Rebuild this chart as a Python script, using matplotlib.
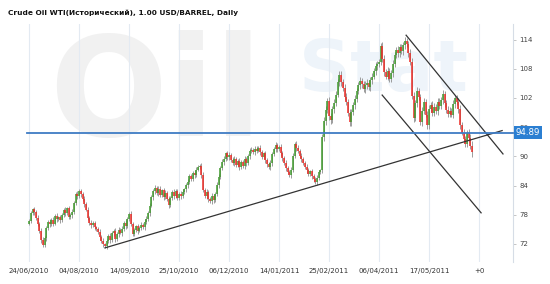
import matplotlib
matplotlib.use('Agg')
import numpy as np
from matplotlib import pyplot as plt

# chart texts
title = 'Crude Oil WTI(Исторический), 1.00 USD/BARREL, Daily'
date_labels = ['24/06/2010', '04/08/2010', '14/09/2010', '25/10/2010', '06/12/2010',
               '14/01/2011', '25/02/2011', '06/04/2011', '17/05/2011', '+0']
bars_per_label = 29
y_ticks = [72, 78, 84, 90, 96, 102, 108, 114]
last_price = 94.89

# daily closes, open = previous close
first_open = 76.2
closes = [
    76.8, 78.3, 79.1, 78.6, 77.4, 76.2, 74.6, 72.9, 71.8, 73.2,
    75.2, 76.6, 76.1, 77.0, 76.2, 77.8, 77.1, 77.5, 76.9, 78.0,
    79.0, 78.3, 79.3, 77.6, 78.0, 78.5, 80.4, 82.3, 81.8, 82.9,
    82.2, 81.3, 80.3, 79.0, 77.4, 76.4, 75.8, 76.3, 75.4, 75.0,
    74.5, 73.4, 72.6, 72.0, 71.5, 72.6, 73.6, 72.9, 74.2, 74.6,
    73.1, 74.0, 74.9, 74.3, 75.0, 76.4, 75.6, 77.1, 78.2, 76.2,
    74.1, 74.8, 75.6, 74.7, 75.3, 76.0, 75.4, 76.6, 77.2, 78.3,
    79.9, 81.6, 82.8, 83.6, 82.4, 83.4, 82.1, 83.0, 81.7, 82.5,
    81.2, 80.0, 81.4, 82.6, 81.8, 82.9, 81.5, 82.3, 81.9, 82.7,
    83.2, 84.1, 84.8, 85.9, 85.4, 86.6, 86.2, 87.3, 87.9, 88.0,
    86.2, 83.1, 81.9, 82.6, 81.2, 80.9, 81.8, 81.0, 82.3, 84.2,
    85.8, 87.6, 88.9, 89.5, 90.6, 89.8, 90.2, 89.3, 88.7, 89.4,
    88.3, 89.0, 87.9, 88.8, 88.1, 89.4, 88.6, 90.0, 91.1, 91.4,
    90.9, 91.6, 91.2, 91.7, 90.8, 89.9, 90.6, 89.2, 88.4, 87.9,
    88.6, 90.4, 91.6, 92.3, 91.5, 91.9, 90.7, 89.6, 88.7, 87.6,
    86.8, 86.1, 87.2, 90.1, 92.6, 91.8, 91.2, 90.1, 89.4, 88.7,
    87.9, 87.1, 86.4, 86.9, 85.9, 85.3, 84.8, 85.6, 86.8, 87.1,
    94.0, 97.2, 99.6, 101.4, 98.2, 97.4, 99.8, 101.0, 102.7, 105.3,
    106.8, 105.2, 104.0, 102.3, 101.2, 98.9, 97.0, 99.1, 100.6, 101.8,
    103.4, 104.6, 105.5, 104.8, 103.9, 104.6, 105.1, 104.2, 105.6, 106.4,
    107.6, 108.5, 108.9, 109.4, 112.6, 110.1, 107.3, 106.4, 107.5, 105.9,
    107.2, 109.0, 110.8, 111.9, 111.2, 112.4, 111.7, 112.8, 113.8, 113.0,
    111.3, 109.4, 102.5, 97.8, 101.0, 103.4, 102.2, 97.0, 99.4, 101.2,
    98.6, 96.4, 99.8, 100.6, 99.0, 100.2, 99.3, 101.2, 100.4, 101.6,
    102.8, 100.9, 99.6, 98.8, 99.4, 98.6, 100.7, 102.0, 101.1, 99.8,
    96.4, 94.9, 93.5, 92.6, 94.9, 93.8, 92.2, 90.8,
]
# wick length beyond the body
wicks = [
    0.4, 0.5, 0.3, 0.6, 0.4, 0.5, 0.4, 0.6, 0.5, 0.4,
    0.5, 0.3, 0.6, 0.4, 0.5, 0.4, 0.6, 0.3, 0.5, 0.4,
    0.4, 0.6, 0.3, 0.5, 0.4, 0.6, 0.4, 0.3, 0.5, 0.4,
    0.5, 0.4, 0.6, 0.3, 0.5, 0.4, 0.6, 0.4, 0.5, 0.3,
    0.4, 0.5, 0.4, 0.6, 0.3, 0.5, 0.4, 0.6, 0.4, 0.5,
    0.6, 0.4, 0.5, 0.3, 0.6, 0.4, 0.5, 0.4, 0.3, 0.6,
    0.4, 0.5, 0.4, 0.6, 0.3, 0.5, 0.4, 0.6, 0.5, 0.4,
    0.5, 0.4, 0.6, 0.5, 0.4, 0.6, 0.5, 0.4, 0.6, 0.5,
    0.4, 0.6, 0.5, 0.4, 0.6, 0.3, 0.5, 0.4, 0.6, 0.5,
    0.4, 0.5, 0.6, 0.4, 0.5, 0.4, 0.6, 0.5, 0.4, 0.5,
    0.6, 0.5, 0.4, 0.6, 0.5, 0.4, 0.6, 0.5, 0.4, 0.5,
    0.6, 0.4, 0.5, 0.6, 0.4, 0.5, 0.6, 0.4, 0.5, 0.6,
    0.5, 0.4, 0.6, 0.5, 0.4, 0.6, 0.5, 0.4, 0.6, 0.5,
    0.4, 0.6, 0.5, 0.4, 0.6, 0.5, 0.4, 0.6, 0.5, 0.4,
    0.6, 0.5, 0.4, 0.6, 0.5, 0.4, 0.6, 0.5, 0.4, 0.6,
    0.5, 0.4, 0.6, 0.5, 0.4, 0.6, 0.5, 0.4, 0.6, 0.5,
    0.4, 0.6, 0.5, 0.4, 0.6, 0.5, 0.4, 0.6, 0.5, 0.4,
    0.6, 0.8, 0.7, 0.6, 0.8, 0.7, 0.6, 0.8, 0.7, 0.6,
    0.8, 0.7, 0.6, 0.8, 0.7, 0.6, 0.8, 0.7, 0.6, 0.8,
    0.7, 0.6, 0.8, 0.7, 0.6, 0.8, 0.7, 0.6, 0.8, 0.7,
    0.6, 0.8, 0.7, 0.6, 0.7, 0.8, 0.7, 0.6, 0.8, 0.7,
    0.6, 0.8, 0.7, 0.6, 0.8, 0.7, 0.6, 0.8, 0.7, 0.6,
    0.8, 0.7, 0.8, 0.7, 0.6, 0.8, 0.7, 0.6, 0.8, 0.7,
    0.6, 0.8, 0.7, 0.6, 0.8, 0.7, 0.6, 0.8, 0.7, 0.6,
    0.8, 0.7, 0.6, 0.8, 0.7, 0.6, 0.8, 0.7, 0.6, 0.8,
    0.7, 0.6, 0.8, 0.7, 0.6, 0.8, 0.7, 0.9,
]

# hand drawn trend lines: (bar index, price) pairs
support_line = [(44.0, 71.2), (274.4, 95.3)]
upper_channel = [(218.7, 114.9), (274.9, 90.5)]
lower_channel = [(204.8, 102.6), (262.2, 78.4)]

closes = np.array(closes)
opens = np.concatenate([[first_open], closes[:-1]])
wicks = np.array(wicks)
idx = np.arange(len(closes))
highs = np.maximum(opens, closes) + wicks
lows = np.minimum(opens, closes) - wicks

fig = plt.figure(figsize=(5.5, 2.84), dpi=100)
fig.patch.set_facecolor('white')
ax = fig.add_axes([27 / 550, 22 / 284, 486 / 550, 238 / 284])
ax.set_xlim(-1.2, 280.7)
ax.set_ylim(68.3, 117.2)

# watermark logo (very faint)
ax.text(0.045, 0.69, 'Oil', transform=ax.transAxes, fontsize=100, fontweight='bold',
        color='#f1f1f1', va='center', ha='left', zorder=0)
ax.text(0.56, 0.80, 'Stat', transform=ax.transAxes, fontsize=52, fontweight='bold',
        color='#eef4fa', va='center', ha='left', zorder=0)

# vertical grid
ticks_x = [k * bars_per_label for k in range(len(date_labels))]
for t in ticks_x:
    ax.axvline(t, color='#e3eaf2', lw=0.8, zorder=1)

# candles
up = closes > opens + 0.05
down = closes < opens - 0.05
body_col = np.where(up, '#3f9a2c', np.where(down, '#ec2a24', '#9a9a9a'))
ax.vlines(idx, lows, highs, color='#9c9c9c', lw=0.7, zorder=3)
bot = np.minimum(opens, closes)
top = np.maximum(np.maximum(opens, closes), bot + 0.2)
ax.vlines(idx, bot, top, colors=body_col, lw=1.1, zorder=4)

# trend lines
for ln in (support_line, upper_channel, lower_channel):
    ax.plot([ln[0][0], ln[1][0]], [ln[0][1], ln[1][1]], color='#333333', lw=0.9, zorder=5)

# last price line
ax.axhline(last_price, color='#3f7cc4', lw=1.3, zorder=6, clip_on=False)

ax.set_xticks(ticks_x)
ax.set_xticklabels(date_labels)
ax.yaxis.tick_right()
ax.set_yticks(y_ticks)
ax.tick_params(axis='x', length=0, labelsize=5.0, labelcolor='#333333', pad=4)
ax.tick_params(axis='y', length=2.5, width=0.6, color='#bbbbbb', labelsize=5.0,
               labelcolor='#444444', pad=2)
for s in ('left', 'top', 'bottom'):
    ax.spines[s].set_visible(False)
ax.spines['right'].set_color('#d6dde6')
ax.spines['right'].set_linewidth(0.8)

# price box (covers the 96 label as in the original)
ax.annotate(f'{last_price:.2f}', xy=(1.0, last_price), xycoords=('axes fraction', 'data'),
            xytext=(2, 0), textcoords='offset points', ha='left', va='center',
            fontsize=6.2, color='white', zorder=10,
            bbox=dict(boxstyle='square,pad=0.2', fc='#2b7fd2', ec='none'))

fig.text(8 / 550, 1 - 13 / 284, title, fontsize=5.3, fontweight='bold', color='#111111',
         ha='left', va='center')

fig.savefig('out.png', dpi=100)
